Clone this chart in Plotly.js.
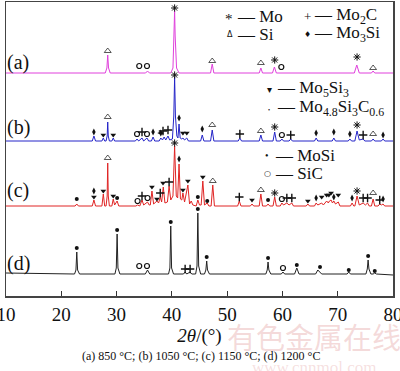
<!DOCTYPE html>
<html><head><meta charset="utf-8">
<script src="https://cdn.plot.ly/plotly-3.0.1.min.js"></script>
<style>html,body{margin:0;padding:0;background:#fff}#g{width:400px;height:371px}</style>
</head><body><div id="g"></div>
<script>
// ---------- DATA (2θ in degrees, offset intensity in arbitrary units) ----------
const curveA_x=[10,27.95,28.25,28.4,28.55,28.85,35.25,35.6,35.95,39.8,40.2,40.4,40.5,40.6,40.85,41.3,47.0,47.3,47.6,55.8,56.1,56.4,58.2,58.55,58.9,73.0,73.45,73.9,76.1,76.4,76.7,80];
const curveA_y=[223,223,228,241,228,223,223,225,223,223,228,260,285,260,228,223,223,232,223,223,228,223,223,229,223,223,231,223,223,225,223,223];

const curveB_x=[10,25.6,25.9,26.2,27.35,27.6,27.85,28.1,28.3,28.4,28.5,28.7,29.15,29.4,29.65,33.4,33.7,34.0,34.6,34.9,35.5,35.8,36.3,36.6,36.9,37.7,38.0,38.3,38.6,38.9,39.3,39.6,40.1,40.35,40.5,40.65,40.9,41.1,41.3,41.5,41.8,42.0,42.3,42.7,43.0,45.2,45.5,45.8,47.0,47.3,47.6,52.0,52.3,52.6,55.8,56.1,56.4,58.3,58.6,58.9,59.6,59.9,60.2,61.2,61.5,61.8,65.8,66.1,66.4,69.0,69.3,69.6,71.9,72.2,72.5,73.1,73.5,73.9,74.6,74.9,76.1,76.4,76.7,77.9,78.2,78.5,80];
const curveB_y=[155,155,160,155,155,158,155,155,160,174,160,155,155,158,155,155,157,155,158,155,158,155,155,159,155,155,158,156,159,156,160,156,157,180,219,180,160,158,172,158,157,158,156,158,155,155,161,155,155,166,155,155,158,155,155,161,155,155,164,155,155,157,155,155,157,155,155,158,155,155,158,155,155,157,155,155,165,156,157,155,155,157,155,155,157,155,155];

const curveC_x=[10,22.5,22.8,23.1,25.6,25.9,26.2,27.35,27.6,27.85,28.1,28.3,28.4,28.5,28.7,29.15,29.4,29.65,30.1,30.4,33.5,33.8,34.2,34.6,34.9,35.6,35.9,36.1,36.4,36.7,37.3,37.6,37.9,38.15,38.45,38.75,39.2,39.5,39.8,40.2,40.5,40.8,41.05,41.3,41.55,41.8,42.0,42.3,42.9,43.2,43.5,43.8,44.4,44.7,45.0,45.3,45.6,45.9,46.4,46.7,47.1,47.4,47.7,51.9,52.2,52.5,54.2,54.5,54.8,55.8,56.1,56.4,57.1,57.4,57.7,58.3,58.6,58.9,59.6,59.9,60.2,60.8,61.2,61.7,62.0,64.3,64.6,64.9,65.8,66.1,66.4,67.1,67.4,68.0,68.3,68.5,68.8,69.05,69.3,69.6,70.1,70.4,72.3,72.6,72.9,73.1,73.5,73.9,74.6,75.0,75.4,75.7,76.1,76.4,76.7,77.3,77.6,77.9,78.2,78.5,80];
const curveC_y=[90,90,92,90,90,96,90,90,102,90,90,100,133,100,90,90,97,91,95,90,90,91,90,96,91,94,91,91,105,92,95,93,99,94,109,93,94,110,96,100,150,100,98,132,97,96,103,94,111,92,95,91,90,96,91,91,115,91,93,90,90,111,90,90,95,90,90,92,90,90,102,90,90,92,90,90,99,90,90,93,91,93,91,93,90,90,92,90,90,93,91,93,91,95,93,95,96,93,95,92,94,90,90,93,90,90,100,91,93,91,93,90,90,97,90,90,92,91,92,90,90];

const curveD_x=[10,22.4,22.65,22.8,22.95,23.3,29.7,29.95,30.1,30.25,30.6,35.2,35.6,36.0,39.4,39.65,39.8,39.95,40.3,42.1,42.4,42.7,43.3,43.6,44.3,44.55,44.7,44.85,45.2,45.9,46.15,46.3,46.45,46.8,57.0,57.25,57.4,57.55,57.9,59.8,60.1,60.4,62.2,62.6,63.0,66.0,66.4,66.8,67.1,71.7,72.0,72.3,75.1,75.35,75.5,75.65,76.0,76.4,76.7,77.0,80];
const curveD_y=[23,22,26,44,26,22,22,28,62,28,22,22,26,22,22,28,70,28,22,22,24,22,24,22,22,30,83,30,22,22,26,35,26,22,22,26,34,26,22,22,24,22,22,28,22,22,26,23,22,22,24,22,22,27,36,27,22,22,23,22,21];

// phase marker positions
const mo_x=[40.5,58.6,73.5, 40.5,58.6,73.5, 40.5,58.6,73.5];
const mo_y=[288,236,239, 221,169,171, 153,103,105];
const si_x=[28.4,47.3,56.1,76.4, 28.4,47.3,56.1,76.4, 28.4,47.4,56.1,76.4];
const si_y=[245,235,233,228, 179,171,165,162, 138,115,106,103];
const sic_x=[34.1,35.5,59.8, 33.7,35.5,59.9, 33.8,35.6,59.9, 34.1,35.5,60.1];
const sic_y=[230,230,229, 162,162,161, 95,98,97, 30,30,28];
const mo2c_x=[34.6,38.4,39.3,52.3,61.5,74.6, 34.6,37.9,39.5,52.2,60.8,61.7,74.6,75.4,77.6, 42.4,43.3];
const mo2c_y=[164,165,166,162,161,161, 100,103,114,99,98,98,98,98,96, 27,27];
const mo3si_x=[25.9,36.6,41.3,45.5,66.1,69.3,72.2,78.2, 25.9,41.3,66.1,69.3,72.6,78.2];
const mo3si_y=[164,164,178,167,163,164,162,161, 105,137,98,99,98,97];
const mo5si3_x=[27.6,29.4,42.0,42.7, 25.9,27.6,29.4,36.4,37.3,38.4,42.0,42.9,45.6,54.5,64.6,67.1,68.0,68.4,68.8,70.1];
const mo5si3_y=[161,161,163,163, 99,105,100,109,97,113,106,115,119,96,95,99,101,101,103,101];
const mosic_x=[38.0];
const mosic_y=[163];
const mosi_x=[22.8,30.1,44.7,46.4,57.4, 22.8,30.1,39.8,44.7,46.3,57.4,62.6,66.8,72.0,75.5,76.7];
const mosi_y=[97,98,99,95,96, 48,66,74,87,39,38,31,29,26,40,25];

const xTicks=[10,20,30,40,50,60,70,80];
const patternLabels=['(a)','(b)','(c)','(d)'];
const legendLabels=['Mo','Mo<sub>2</sub>C','Si','Mo<sub>3</sub>Si','Mo<sub>5</sub>Si<sub>3</sub>','Mo<sub>4.8</sub>Si<sub>3</sub>C<sub>0.6</sub>','MoSi','SiC'];
const caption='(a) 850 °C; (b) 1050 °C; (c) 1150 °C; (d) 1200 °C';

// ---------- LAYOUT ----------
const W=400,H=371,L=6,R=7,T=2,B=75;
const pxX=x=>(x-L)/(W-L-R);
const pxY=y=>(H-B-y)/(H-T-B);
const SERIF='Liberation Serif';
const K='#111';

function line(x,y,c,w){return {x,y,type:'scatter',mode:'lines',line:{color:c,width:w||1},hoverinfo:'skip'};}
function mk(x,y,sym,size,lw){
  return {x,y,type:'scatter',mode:'markers',hoverinfo:'skip',
    marker:{symbol:sym,size:size,color:K,line:{color:K,width:lw}}};
}
const data=[
  line(curveA_x,curveA_y,'#e040dc',1),
  line(curveB_x,curveB_y,'#2424c8',1),
  line(curveC_x,curveC_y,'#e02424',1),
  line(curveD_x,curveD_y,'#222',1),
  mk(mo_x,mo_y,'asterisk-open',6,1),
  mk(si_x,si_y,'triangle-up-open',6,0.7),
  mk(sic_x,sic_y,'circle-open',5,1.2),
  mk(mo2c_x,mo2c_y,'cross-thin-open',6,1.4),
  mk(mo3si_x,mo3si_y,'diamond-tall',5,0),
  mk(mo5si3_x,mo5si3_y,'triangle-down',5,0),
  mk(mosic_x,mosic_y,'star-diamond',5,0),
  mk(mosi_x,mosi_y,'circle',4,0)
];

const ann=[];
function txt(t,x,y,size,opt){
  ann.push(Object.assign({text:t,xref:'paper',yref:'paper',x:pxX(x),y:pxY(y),showarrow:false,
    font:{family:SERIF,size:size,color:K},xanchor:'center',yanchor:'middle'},opt||{}));
}
// pattern labels
const labY=[62,127,191,263];
patternLabels.forEach((t,i)=>txt(t,5,labY[i],20,{xanchor:'left'}));
// legend: [symbol, size, symX, symY, textX, textY]
const leg=[
  ['*',15,229,19,235,16],
  ['+',13,307,16,312,16],
  ['Δ',8,230,34,235,34],
  ['♦',8,307,34,312,34],
  ['▾',10,269,89,275,89],
  ['•',6,269,110,275,108],
  ['•',10,267,155,273,155],
  ['○',8,267,173,273,173]
];
leg.forEach((e,i)=>{
  txt(e[0],e[2],e[3],e[1],{font:{family:(i==2||i==3||i==4||i==7)?'DejaVu Sans':SERIF,size:e[1],color:K}});
  txt('— '+legendLabels[i],e[4],e[5],17,{xanchor:'left'});
});
// caption
txt(caption,201,356,12);
// watermark
txt('有色金属在线',314,336,29,{font:{family:'Noto Sans CJK SC',size:29,color:'rgba(225,150,150,0.35)'}});
txt('www.cnnmol.com',314,367,17,{font:{family:SERIF,size:17,color:'rgba(225,150,150,0.3)'}});

const layout={
  width:W,height:H,margin:{l:L,r:R,t:T,b:B},
  paper_bgcolor:'#fff',plot_bgcolor:'#fff',showlegend:false,
  xaxis:{range:[10,80],tickvals:xTicks,ticktext:xTicks.map(String),ticks:'inside',ticklen:5,tickwidth:1,tickcolor:'#333',
    ticklabeloverflow:'allow',ticklabelstandoff:1,
    showline:true,linecolor:'#444',linewidth:1.5,mirror:true,showgrid:false,zeroline:false,
    tickfont:{family:SERIF,size:19,color:K},
    title:{text:'<i>2θ</i>/(°)',font:{family:SERIF,size:19,color:K},standoff:2}},
  yaxis:{range:[0,294],showticklabels:false,ticks:'',showline:true,linecolor:'#444',linewidth:1.5,mirror:true,showgrid:false,zeroline:false},
  annotations:ann
};
Plotly.newPlot('g',data,layout,{displayModeBar:false,staticPlot:true});
</script></body></html>
